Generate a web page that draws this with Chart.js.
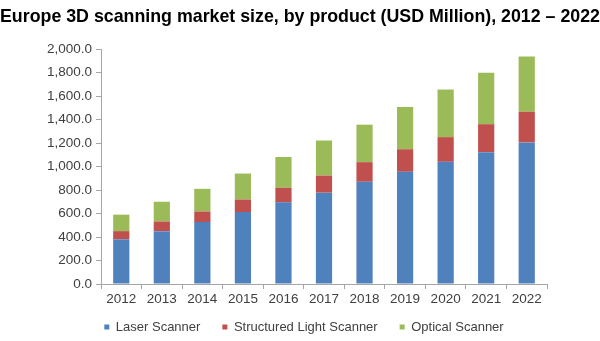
<!DOCTYPE html>
<html>
<head>
<meta charset="utf-8">
<script src="https://cdn.jsdelivr.net/npm/chart.js@4"></script>
<style>
  html, body { margin: 0; padding: 0; background: #fff; }
  #wrap { width: 600px; height: 341px; }
</style>
</head>
<body>
<div id="wrap"><canvas id="graph0"></canvas></div>
<script>
// DATA
const years = ['2012', '2013', '2014', '2015', '2016', '2017', '2018', '2019', '2020', '2021', '2022']
const laserScanner = [380, 450, 527, 612, 695, 777, 870, 955, 1040, 1122, 1205]
const structuredLightScanner = [70, 82, 90, 107, 124, 146, 167, 192, 210, 238, 261]
const opticalScanner = [140, 168, 193, 221, 262, 298, 319, 360, 405, 437, 470]
const yTicks = [0, 200, 400, 600, 800, 1000, 1200, 1400, 1600, 1800, 2000]

const axisGray = '#a6a6a6'
const textGray = '#404040'
const tickFont = { family: 'Liberation Sans, Arial, sans-serif', size: 13.5 }

// move the legend up under the x labels and a bit to the right
const legendNudge = {
    id: 'legendNudge',
    afterLayout(chart) {
        const lg = chart.legend
        const h = lg.bottom - lg.top
        lg.top = chart.chartArea.bottom + 14.5
        lg.bottom = lg.top + h
        lg.left += 4
        lg.right += 4
    }
}

// GRAPH
const ctx = document.getElementById('graph0').getContext('2d')

const graph0 = new Chart(ctx, {
    type: 'bar',
    data: {
        labels: years,
        datasets: [
            { label: 'Laser Scanner', data: laserScanner, backgroundColor: '#4f81bd' },
            { label: 'Structured Light Scanner', data: structuredLightScanner, backgroundColor: '#c0504d' },
            { label: 'Optical Scanner', data: opticalScanner, backgroundColor: '#9bbb59' }
        ]
    },
    plugins: [legendNudge],
    options: {
        responsive: true,
        maintainAspectRatio: false,
        animation: false,
        layout: { padding: { left: 0, right: 0, top: 0, bottom: -11.2 } },
        datasets: {
            bar: { barPercentage: 0.4, categoryPercentage: 1.0 }
        },
        plugins: {
            title: {
                display: true,
                text: 'Europe 3D scanning market size, by product (USD Million), 2012 \u2013 2022',
                color: '#000',
                font: { family: 'Liberation Sans, Arial, sans-serif', size: 18.5, weight: 'bold' },
                padding: { top: 6, bottom: 20.8 }
            },
            legend: {
                position: 'bottom',
                labels: {
                    color: textGray,
                    font: { family: 'Liberation Sans, Arial, sans-serif', size: 13 },
                    boxWidth: 5,
                    boxHeight: 5,
                    padding: 22
                }
            },
            tooltip: { enabled: false }
        },
        scales: {
            x: {
                stacked: true,
                afterFit: (scale) => { scale.height = 23.2 },
                grid: { drawOnChartArea: false, drawTicks: true, tickLength: 5, color: axisGray },
                border: { display: true, color: axisGray },
                ticks: { color: textGray, font: tickFont, padding: 2, maxRotation: 0 }
            },
            y: {
                stacked: true,
                min: 0,
                max: 2000,
                afterBuildTicks: (scale) => { scale.ticks = yTicks.map(v => ({ value: v })) },
                afterFit: (scale) => { scale.width = 101 },
                grid: { drawOnChartArea: false, drawTicks: true, tickLength: 5, color: axisGray },
                border: { display: true, color: axisGray },
                ticks: {
                    color: textGray,
                    font: tickFont,
                    padding: 4,
                    callback: (v) => Number(v).toLocaleString('en-US', { minimumFractionDigits: 1, maximumFractionDigits: 1 })
                }
            },
            // empty right margin so the plot stops where the original does
            rightSpace: {
                type: 'linear',
                position: 'right',
                afterFit: (scale) => { scale.width = 53 },
                grid: { display: false },
                border: { display: false },
                ticks: { display: false }
            }
        }
    }
})
</script>
</body>
</html>
